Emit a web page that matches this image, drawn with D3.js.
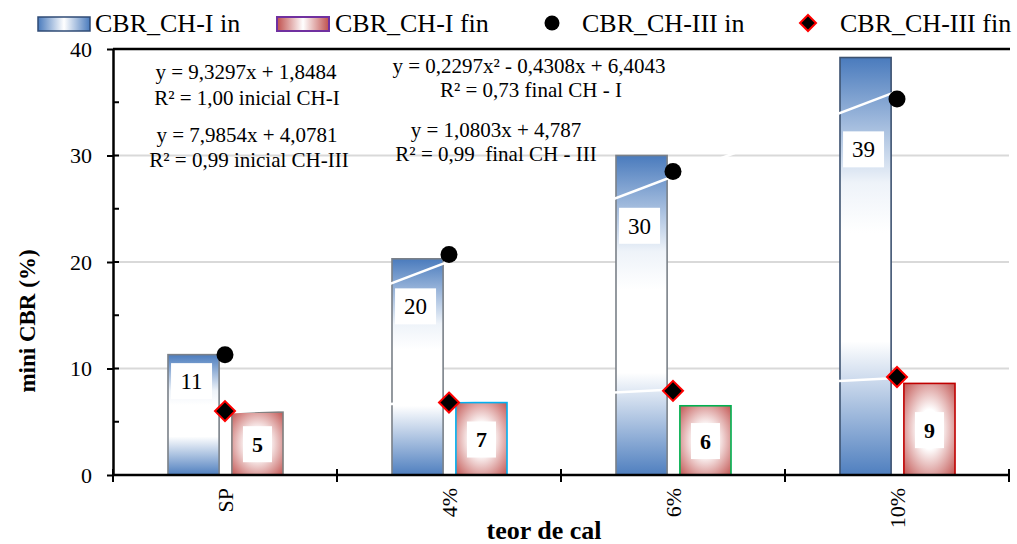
<!DOCTYPE html>
<html>
<head>
<meta charset="utf-8">
<script src="https://cdn.jsdelivr.net/npm/d3@7"></script>
<style>
body { margin: 0; background: #fff; }
text { font-family: "Liberation Serif", "Times New Roman", serif; fill: #000; }
</style>
</head>
<body>
<div id="chart"></div>
<script>
var width = 1017,
    height = 544;

// data
var categories = ["SP", "4%", "6%", "10%"];
var cbrIin = [11.3, 20.3, 30.0, 39.2];
var cbrIfin = [5.9, 6.8, 6.5, 8.6];
var cbrIIIin = [11.3, 20.7, 28.5, 35.3];
var cbrIIIfin = [6.0, 6.8, 7.9, 9.2];
var labelIin = ["11", "20", "30", "39"];
var labelIfin = ["5", "7", "6", "9"];
var yTicks = [0, 10, 20, 30, 40];
var yMinor = [5, 15, 25, 35];
// linear trendlines y = a*x + b (x = 1..4)
var trendIIIin = [7.9854, 4.0781];
var trendIIIfin = [1.0803, 4.787];
var eqLeft = ["y = 9,3297x + 1,8484", "R² = 1,00 inicial CH-I", "y = 7,9854x + 4,0781", "R² = 0,99 inicial CH-III"];
var eqRight = ["y = 0,2297x² - 0,4308x + 6,4043", "R² = 0,73 final CH - I", "y = 1,0803x + 4,787", "R² = 0,99  final CH - III"];
var finBorder = ["#7f7f7f", "#00b0f0", "#00b050", "#c00000"];

var pLeft = 113, pRight = 1009, pTop = 49, pBottom = 475;

var svg = d3.select("#chart").append("svg")
    .attr("width", width)
    .attr("height", height);

var defs = svg.append("defs");

var gBlue = defs.append("linearGradient")
    .attr("id", "gBlue").attr("x1", 0).attr("y1", 0).attr("x2", 0).attr("y2", 1);
gBlue.append("stop").attr("offset", 0).attr("stop-color", "#4a7bbd");
gBlue.append("stop").attr("offset", 0.3).attr("stop-color", "#eef3f9");
gBlue.append("stop").attr("offset", 0.42).attr("stop-color", "#ffffff");
gBlue.append("stop").attr("offset", 0.68).attr("stop-color", "#ffffff");
gBlue.append("stop").attr("offset", 1).attr("stop-color", "#4f7fbf");

var gRed = defs.append("radialGradient")
    .attr("id", "gRed").attr("cx", 0.5).attr("cy", 0.5).attr("r", 0.72);
gRed.append("stop").attr("offset", 0).attr("stop-color", "#ffffff");
gRed.append("stop").attr("offset", 0.3).attr("stop-color", "#ffffff");
gRed.append("stop").attr("offset", 1).attr("stop-color", "#c0504d");

var gBlueH = defs.append("linearGradient").attr("id", "gBlueH");
gBlueH.append("stop").attr("offset", 0).attr("stop-color", "#4a7bbd");
gBlueH.append("stop").attr("offset", 0.5).attr("stop-color", "#ffffff");
gBlueH.append("stop").attr("offset", 1).attr("stop-color", "#4a7bbd");

var gRedH = defs.append("linearGradient").attr("id", "gRedH");
gRedH.append("stop").attr("offset", 0).attr("stop-color", "#c0504d");
gRedH.append("stop").attr("offset", 0.5).attr("stop-color", "#ffffff");
gRedH.append("stop").attr("offset", 1).attr("stop-color", "#c0504d");

var x0 = d3.scaleBand()
    .domain(categories)
    .range([pLeft, pRight]);

var bw = x0.bandwidth();

var x1 = d3.scaleBand()
    .domain(["in", "fin"])
    .range([bw * 0.2455, bw * 0.759])
    .paddingInner(0.2);

var y = d3.scaleLinear()
    .domain([0, 40])
    .range([pBottom, pTop]);

var xi = d3.scaleLinear()
    .domain([1, 4])
    .range([x0(categories[0]) + bw / 2, x0(categories[3]) + bw / 2]);

// gridlines
svg.append("g")
    .selectAll("line")
    .data(yTicks.filter(function (d) { return d > 0 && d < 40; }))
    .enter().append("line")
    .attr("x1", pLeft).attr("x2", pRight)
    .attr("y1", function (d) { return y(d); })
    .attr("y2", function (d) { return y(d); })
    .attr("stroke", "#d9d9d9")
    .attr("stroke-width", 2);

// top frame line
svg.append("line")
    .attr("x1", pLeft).attr("x2", pRight + 1)
    .attr("y1", pTop).attr("y2", pTop)
    .attr("stroke", "#000").attr("stroke-width", 2.5);

// bars CH-I in
svg.append("g").selectAll("rect")
    .data(cbrIin)
    .enter().append("rect")
    .attr("x", function (d, i) { return x0(categories[i]) + x1("in"); })
    .attr("y", function (d) { return y(d); })
    .attr("width", x1.bandwidth())
    .attr("height", function (d) { return y(0) - y(d); })
    .attr("fill", "url(#gBlue)")
    .attr("stroke", function (d, i) { return i == 3 ? "#3d5270" : "#7a8088"; })
    .attr("stroke-width", 1.6);

// bars CH-I fin
svg.append("g").selectAll("rect")
    .data(cbrIfin)
    .enter().append("rect")
    .attr("x", function (d, i) { return x0(categories[i]) + x1("fin"); })
    .attr("y", function (d) { return y(d); })
    .attr("width", x1.bandwidth())
    .attr("height", function (d) { return y(0) - y(d); })
    .attr("fill", "url(#gRed)")
    .attr("stroke", function (d, i) { return finBorder[i]; })
    .attr("stroke-width", 1.6);

// trendlines (white)
function trend(c) {
    return d3.line()([[xi(1), y(c[0] * 1 + c[1])], [xi(4), y(c[0] * 4 + c[1])]]);
}
svg.append("path").attr("d", trend(trendIIIin))
    .attr("fill", "none").attr("stroke", "#fff").attr("stroke-width", 2.5);
svg.append("path").attr("d", trend(trendIIIfin))
    .attr("fill", "none").attr("stroke", "#fff").attr("stroke-width", 2.5);

// axes
var yAxis = svg.append("g")
    .attr("transform", "translate(" + pLeft + ",0)")
    .call(d3.axisLeft(y).tickValues(yTicks).tickSize(6).tickPadding(15).tickSizeOuter(0));
yAxis.select(".domain").attr("stroke", "#000").attr("stroke-width", 2.5);
yAxis.selectAll(".tick line").attr("stroke", "#000").attr("stroke-width", 2);
yAxis.selectAll(".tick text")
    .attr("font-size", 22)
    .style("font-family", "'Liberation Serif', 'Times New Roman', serif");

svg.append("g").selectAll("line")
    .data(yTicks.concat(yMinor))
    .enter().append("line")
    .attr("x1", pLeft).attr("x2", pLeft + 6)
    .attr("y1", function (d) { return y(d); })
    .attr("y2", function (d) { return y(d); })
    .attr("stroke", "#000").attr("stroke-width", 2);

svg.append("line")
    .attr("x1", pLeft - 1).attr("x2", pRight + 1)
    .attr("y1", pBottom).attr("y2", pBottom)
    .attr("stroke", "#000").attr("stroke-width", 2.5);

svg.append("g").selectAll("line")
    .data(categories.map(function (c) { return x0(c); }).concat([pRight]))
    .enter().append("line")
    .attr("x1", function (d) { return d; }).attr("x2", function (d) { return d; })
    .attr("y1", pBottom - 6).attr("y2", pBottom + 7)
    .attr("stroke", "#000").attr("stroke-width", 2);

svg.append("g").selectAll("text")
    .data(categories)
    .enter().append("text")
    .attr("transform", function (d) {
        return "translate(" + (x0(d) + bw / 2 + 8) + "," + (pBottom + 13) + ") rotate(-90)";
    })
    .attr("text-anchor", "end")
    .attr("font-size", 22)
    .text(function (d) { return d; });

// axis titles
svg.append("text")
    .attr("transform", "translate(35,321) rotate(-90)")
    .attr("text-anchor", "middle")
    .attr("font-size", 23)
    .attr("font-weight", "bold")
    .text("mini CBR (%)");

svg.append("text")
    .attr("x", 544).attr("y", 539)
    .attr("text-anchor", "middle")
    .attr("font-size", 26)
    .attr("font-weight", "bold")
    .text("teor de cal");

// markers CH-III in
svg.append("g").selectAll("circle")
    .data(cbrIIIin)
    .enter().append("circle")
    .attr("cx", function (d, i) { return xi(i + 1); })
    .attr("cy", function (d) { return y(d); })
    .attr("r", 8.5)
    .attr("fill", "#000");

// markers CH-III fin
svg.append("g").selectAll("path")
    .data(cbrIIIfin)
    .enter().append("path")
    .attr("transform", function (d, i) { return "translate(" + xi(i + 1) + "," + y(d) + ")"; })
    .attr("d", "M0,-10L10,0L0,10L-10,0Z")
    .attr("fill", "#000")
    .attr("stroke", "#ff0000")
    .attr("stroke-width", 2);

// data labels
function dataLabel(cx, cy, txt, w, bold) {
    svg.append("rect")
        .attr("x", cx - w / 2).attr("y", cy - 18)
        .attr("width", w).attr("height", 36)
        .attr("fill", "#fff");
    svg.append("text")
        .attr("x", cx).attr("y", cy)
        .attr("dy", "0.35em")
        .attr("text-anchor", "middle")
        .attr("font-size", bold ? 22 : 23)
        .attr("font-weight", bold ? "bold" : "normal")
        .text(txt);
}
cbrIin.forEach(function (d, i) {
    dataLabel(x0(categories[i]) + x1("in") + x1.bandwidth() / 2 - 2, y(d * 0.78), labelIin[i], 41, false);
});
cbrIfin.forEach(function (d, i) {
    dataLabel(x0(categories[i]) + x1("fin") + x1.bandwidth() / 2, y(d * 0.49), labelIfin[i], 29, true);
});

// equations
function eqBlock(lines, xs, ys) {
    lines.forEach(function (t, i) {
        svg.append("text")
            .attr("x", xs[i]).attr("y", ys[i])
            .attr("text-anchor", "middle")
            .attr("font-size", 21)
            .style("white-space", "pre")
            .text(t);
    });
}
eqBlock(eqLeft, [246, 247, 247, 249], [79, 105, 142, 167]);
eqBlock(eqRight, [529, 531, 496, 496], [73, 97, 137, 161]);

// legend
function legendText(x, t) {
    svg.append("text")
        .attr("x", x).attr("y", 32)
        .attr("font-size", 26)
        .text(t);
}
svg.append("rect").attr("x", 38).attr("y", 17).attr("width", 52).attr("height", 14)
    .attr("fill", "url(#gBlueH)").attr("stroke", "#2f4b75").attr("stroke-width", 1.5);
legendText(95, "CBR_CH-I in");
svg.append("rect").attr("x", 277).attr("y", 17).attr("width", 52).attr("height", 14)
    .attr("fill", "url(#gRedH)").attr("stroke", "#7030a0").attr("stroke-width", 2);
legendText(335, "CBR_CH-I fin");
svg.append("circle").attr("cx", 552).attr("cy", 23).attr("r", 7.5).attr("fill", "#000");
legendText(582, "CBR_CH-III in");
svg.append("path").attr("transform", "translate(808,23)")
    .attr("d", "M0,-8L8,0L0,8L-8,0Z")
    .attr("fill", "#000").attr("stroke", "#ff0000").attr("stroke-width", 2);
legendText(840, "CBR_CH-III fin");
</script>
</body>
</html>
